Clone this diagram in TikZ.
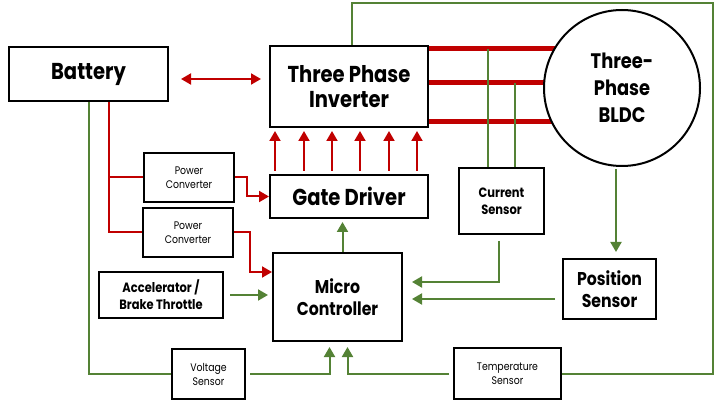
\documentclass[tikz,border=0pt]{standalone}
\usepackage{fontspec}
\setmainfont{Poppins}[FakeStretch=0.85]
\usetikzlibrary{arrows.meta}
\definecolor{wirered}{RGB}{192,0,0}
\definecolor{siggreen}{RGB}{84,130,53}
\tikzset{
  block/.style={draw, line width=2pt, align=center, inner sep=1pt},
  pw/.style={wirered, line width=2pt},
  phase/.style={wirered, line width=5pt},
  sig/.style={siggreen, line width=2pt},
  tip/.style={-{Triangle[length=10pt,width=11pt]}},
  fbig/.style={font=\bfseries\fontsize{23}{25}\selectfont},
  fmid/.style={font=\bfseries\fontsize{18.5}{22}\selectfont},
  fsml/.style={font=\bfseries\fontsize{13.5}{17}\selectfont},
  ftiny/.style={font=\fontsize{11}{14}\selectfont},
}
\begin{document}
\begin{tikzpicture}[x=1pt, y=-1pt]
\useasboundingbox (0,0) rectangle (718,414);
% blocks
\node[block, fbig, minimum width=159, minimum height=54] (bat) at (88.5,74) {Battery};
\node[block, fbig, minimum width=158, minimum height=81] (inv) at (349,86.5) {Three Phase\\Inverter};
\node[block, fbig, minimum width=158, minimum height=43] (gate) at (349,196.5) {Gate Driver};
\node[block, fmid, minimum width=129, minimum height=88] (micro) at (337.5,297) {Micro\\Controller};
\node[block, ftiny, minimum width=90, minimum height=49] (pc1) at (189,177.5) {Power\\Converter};
\node[block, ftiny, minimum width=90, minimum height=49] (pc2) at (188,232.5) {Power\\Converter};
\node[block, fsml, minimum width=124, minimum height=46] (accel) at (161,295) {Accelerator /\\Brake Throttle};
\node[block, ftiny, minimum width=73, minimum height=50] (volt) at (208.5,374) {Voltage\\Sensor};
\node[block, ftiny, minimum width=107, minimum height=51] (temp) at (507.5,373.5) {Temperature\\Sensor};
\node[block, fsml, minimum width=85, minimum height=66] (cur) at (501.5,201) {Current\\Sensor};
\node[block, fmid, minimum width=93, minimum height=60] (pos) at (609.5,289) {Position\\Sensor};
\coordinate (motor) at (622,88);
\coordinate (corner) at (713,3);

% phase wires, motor drawn over them
\coordinate (pa) at ([yshift=-4pt]inv.north east);
\coordinate (pb) at ([yshift=-38pt]inv.north east);
\coordinate (pc) at ([yshift=-77pt]inv.north east);
\foreach \p in {pa,pb,pc}
  \draw[phase] (\p) -- (\p -| motor);
\node[draw, circle, line width=2pt, fill=white, minimum size=156, align=center, font=\bfseries\fontsize{21}{27}\selectfont] (bldc) at (motor) {Three-\\Phase\\BLDC};

% power side
\draw[pw, {Triangle[length=10pt,width=11pt]}-{Triangle[length=10pt,width=11pt]}] ([xshift=12pt,yshift=-5pt]bat.east) -- ([xshift=-8pt,yshift=-5pt]bat.east -| inv.west);
\draw[pw] ([xshift=20pt]bat.south) |- (pc2.west);
\draw[pw] (pc1.west) -| ([xshift=20pt]bat.south);
\draw[pw, tip] (pc1.east) -- ++(12,0) |- (gate.west);
\draw[pw, tip] (pc2.east) -- ++(16,0) |- ([yshift=25pt]micro.west);
\foreach \dx in {6,35,63,91,120,148}
  \draw[pw, tip, shorten <=3pt, shorten >=3pt] ([xshift=\dx pt]gate.north west) -- ([xshift=\dx pt]inv.south west);

% signals
\draw[sig] ([xshift=30pt]cur.north west) -- ([xshift=30pt]cur.north west |- pa);
\draw[sig] ([xshift=57pt]cur.north west) -- ([xshift=57pt]cur.north west |- pb);
\draw[sig, tip, shorten <=6pt, shorten >=9pt] ([xshift=-3pt]cur.south) |- ([yshift=15pt]micro.east);
\draw[sig, tip, shorten <=7pt, shorten >=9pt] ([yshift=-10pt]pos.west) -- ([yshift=-10pt]pos.west -| micro.east);
\draw[sig, tip, shorten <=2pt, shorten >=6pt] ([xshift=-6pt]bldc.south) -- ([xshift=-6pt]bldc.south |- pos.north);
\draw[sig, tip, shorten <=6pt, shorten >=4pt] (accel.east) -- (accel.east -| micro.west);
\draw[sig, tip, shorten >=3pt] ([xshift=5pt]micro.north) -- ([xshift=5pt]micro.north |- gate.south);
\draw[sig] (bat.south) |- (volt.west);
\draw[sig, tip, shorten <=4pt, shorten >=5pt] (volt.east) -| ([xshift=-8pt]micro.south);
\draw[sig, tip, shorten <=4pt, shorten >=5pt] (temp.west) -| ([xshift=10pt]micro.south);
\draw[sig] (temp.east) -| (corner) -| ([xshift=3pt]inv.north);
\end{tikzpicture}
\end{document}
